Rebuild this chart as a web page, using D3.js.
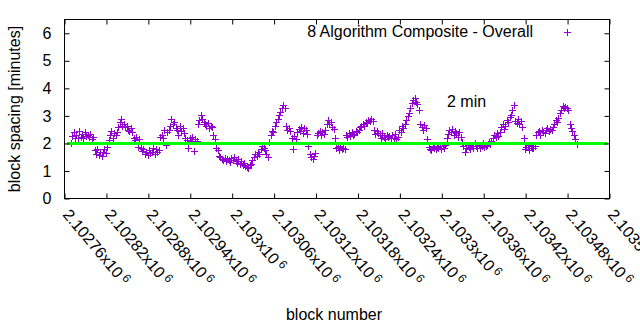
<!DOCTYPE html>
<html>
<head>
<meta charset="utf-8">
<script src="https://cdn.jsdelivr.net/npm/d3@7"></script>
<style>
  body { margin: 0; background: #fff; }
  text { font-family: "Liberation Sans", Arial, sans-serif; fill: #000; }
</style>
</head>
<body>
<script>
// block spacing (minutes), one sample every 2 blocks starting at firstBlock
var firstBlock = 2102769;
var blockStep = 2;
var spacing = [
  2.0, 2.28, 2.4, 2.2,
  2.3, 2.18, 2.45, 2.25, 2.35, 2.2, 2.4, 2.28, 2.32, 2.22,
  2.35, 2.15, 2.25,
  1.75, 1.62, 1.8, 1.58, 1.7, 1.55, 1.68, 1.78, 1.65,
  1.88, 2.12,
  2.3, 2.45, 2.2, 2.38, 2.3, 2.42,
  2.6, 2.78, 2.88, 2.65, 2.72, 2.58, 2.62,
  2.5, 2.45, 2.55, 2.42,
  2.2, 2.12, 2.22, 1.88, 2.15,
  1.85, 1.72, 1.8, 1.62, 1.68, 1.58, 1.75, 1.65, 1.7, 1.82, 1.62, 1.78, 1.7, 1.75,
  2.25, 2.32, 2.18, 2.5, 1.95, 2.4, 2.48,
  2.62, 2.88, 2.7, 2.78, 2.55,
  2.5, 2.32, 2.62, 2.45, 2.55, 2.38,
  2.2, 2.12, 1.82, 2.18, 2.1, 2.22, 1.72, 2.15, 2.08,
  2.72, 2.85, 3.02, 2.9, 2.78,
  2.7, 2.62, 2.75, 2.55, 2.65, 2.58, 2.3,
  2.15, 1.85, 1.75, 1.55,
  1.5, 1.42, 1.38, 1.48, 1.35, 1.45, 1.4, 1.32, 1.46, 1.38, 1.5, 1.36,
  1.3, 1.42, 1.26, 1.35, 1.22, 1.3, 1.18, 1.14, 1.1, 1.2, 1.25,
  1.38, 1.52, 1.6, 1.55, 1.68, 1.62,
  1.8, 1.9, 1.85, 1.75, 1.6, 1.5,
  2.05, 2.3, 2.45, 2.4, 2.62, 2.78,
  2.9, 3.05, 3.15, 3.28, 3.38, 3.3,
  2.62, 2.5, 2.55, 2.45,
  2.2, 1.8, 2.28, 2.15,
  2.4, 2.52, 2.45, 2.6, 2.38, 2.55, 2.48, 2.35,
  1.9, 1.62, 1.5, 1.42, 1.55, 1.65,
  2.3, 2.38, 2.45, 2.32, 2.42, 2.35, 2.5,
  2.72, 2.85, 2.7, 2.78, 2.6, 2.52, 2.2,
  1.82, 1.88, 1.75, 1.9, 1.78, 1.85, 1.8,
  2.3, 2.22, 2.38, 2.28, 2.4, 2.32, 2.35, 2.45, 2.4,
  2.5, 2.58, 2.62, 2.7, 2.65, 2.78, 2.75, 2.85, 2.8, 2.9, 2.82,
  2.5, 2.35, 2.45, 2.38,
  2.3, 2.2, 2.38, 2.25, 2.15, 2.32, 2.22, 2.28, 2.18, 2.3, 2.2, 2.35, 2.15, 2.25,
  2.5, 2.42, 2.62, 2.55, 2.7,
  2.85, 2.98, 3.12, 3.3, 3.45, 3.58, 3.65, 3.5, 3.42,
  3.2, 2.72, 2.6, 2.5, 2.68, 2.55,
  2.15, 1.88, 1.8, 1.75, 1.92, 1.82, 1.78, 1.88, 1.85, 1.92, 1.8, 1.9, 1.85, 1.95,
  2.2, 2.35, 2.48, 2.42, 2.52, 2.3, 2.45, 2.38, 2.25, 2.4, 2.22,
  2.05, 1.92, 1.68, 1.85, 1.95, 1.88, 1.8, 1.92, 1.85, 2.0, 1.9, 1.82, 1.95, 1.85, 1.9, 2.02, 1.88, 1.9,
  1.95, 2.05, 1.98, 2.1,
  2.2, 2.3, 2.25, 2.38, 2.28, 2.42,
  2.6, 2.72, 2.52, 2.65, 2.85, 2.78, 2.95, 3.05,
  3.22, 3.4,
  2.8, 2.75, 2.88, 2.7, 2.82, 2.6,
  2.2, 1.8, 1.88, 1.95, 1.75, 1.9, 1.82, 1.85, 1.92,
  2.3, 2.4, 2.45, 2.32, 2.5, 2.42, 2.38, 2.48, 2.55, 2.45, 2.52, 2.48, 2.6,
  2.7, 2.85, 2.78, 2.92,
  3.1, 3.22, 3.35, 3.28, 3.32, 3.3, 3.2,
  2.7, 2.55, 2.45, 2.3,
  2.15, 1.98
];
var targetMinutes = 2;

var yTicks = [0, 1, 2, 3, 4, 5, 6];
var xTicks = [2102760, 2102820, 2102880, 2102940, 2103000, 2103060, 2103120,
              2103180, 2103240, 2103300, 2103360, 2103420, 2103480, 2103540];
var xTickLabels = ["2.10276", "2.10282", "2.10288", "2.10294", "2.103", "2.10306", "2.10312",
                   "2.10318", "2.10324", "2.1033", "2.10336", "2.10342", "2.10348", "2.10354"];

var seriesName = "8 Algorithm Composite - Overall";

var points = spacing.map(function(v, i) { return {block: firstBlock + i * blockStep, v: v}; });

var plotLeft = 64.5, plotRight = 609.5, plotTop = 19.5, plotBottom = 198.5;
var fontSize = 16;

var x = d3.scaleLinear().domain([xTicks[0], xTicks[xTicks.length - 1]]).range([plotLeft, plotRight]);
var y = d3.scaleLinear().domain([0, 6.5]).range([plotBottom, plotTop]);

var svg = d3.select("body").append("svg")
  .attr("width", 640).attr("height", 330);

var plus = "M-3.5,0H3.5M0,-3.5V3.5";

// points
svg.append("g").selectAll("path").data(points).enter()
  .append("path")
  .attr("d", plus)
  .attr("transform", function(d) {
    return "translate(" + (Math.round(x(d.block)) + 0.5) + "," + (Math.round(y(d.v)) + 0.5) + ")";
  })
  .attr("fill", "none")
  .attr("stroke", "#9400d3")
  .attr("stroke-width", 1);

// 2 minute target line
svg.append("line")
  .attr("x1", plotLeft + 2.5).attr("x2", plotRight - 2)
  .attr("y1", Math.round(y(targetMinutes)) + 0.5).attr("y2", Math.round(y(targetMinutes)) + 0.5)
  .attr("stroke", "#00ff00")
  .attr("stroke-width", 3);

// y axis with mirrored ticks
var yAxis = svg.append("g")
  .attr("transform", "translate(" + plotLeft + ",0)")
  .call(d3.axisLeft(y).tickValues(yTicks).tickFormat(d3.format("d"))
    .tickSizeInner(-5).tickSizeOuter(0).tickPadding(13));
yAxis.select(".domain").remove();
yAxis.selectAll("text").attr("font-size", fontSize).attr("font-family", null);

var yAxisR = svg.append("g")
  .attr("transform", "translate(" + plotRight + ",0)")
  .call(d3.axisRight(y).tickValues(yTicks).tickSizeInner(-5).tickSizeOuter(0).tickFormat(""));
yAxisR.select(".domain").remove();

// x axis, ticks inward on bottom and top
var xAxis = svg.append("g")
  .attr("transform", "translate(0," + plotBottom + ")")
  .call(d3.axisBottom(x).tickValues(xTicks).tickSizeInner(-5).tickSizeOuter(0).tickFormat(""));
xAxis.select(".domain").remove();

var xAxisT = svg.append("g")
  .attr("transform", "translate(0," + plotTop + ")")
  .call(d3.axisTop(x).tickValues(xTicks).tickSizeInner(-5).tickSizeOuter(0).tickFormat(""));
xAxisT.select(".domain").remove();

svg.selectAll(".tick line").attr("stroke", "#000");

// rotated x tick labels
var xl = svg.append("g").selectAll("text").data(xTicks).enter()
  .append("text")
  .attr("font-size", fontSize)
  .attr("transform", function(d) {
    return "translate(" + (x(d) - 2.5) + ",215) rotate(50)";
  });
xl.append("tspan").text(function(d, i) { return xTickLabels[i] + "x10"; });
xl.append("tspan").attr("font-size", 12).attr("dx", 3).attr("dy", -5).text("6");

// border
svg.append("rect")
  .attr("x", plotLeft).attr("y", plotTop)
  .attr("width", plotRight - plotLeft).attr("height", plotBottom - plotTop)
  .attr("fill", "none").attr("stroke", "#000").attr("stroke-width", 1);

// legend
svg.append("text")
  .attr("x", 533).attr("y", 37)
  .attr("text-anchor", "end")
  .attr("font-size", fontSize)
  .text(seriesName);
svg.append("path")
  .attr("d", plus)
  .attr("transform", "translate(567.5,32.5)")
  .attr("fill", "none")
  .attr("stroke", "#9400d3");

svg.append("text")
  .attr("x", 447).attr("y", 107)
  .attr("font-size", fontSize)
  .text("2 min");

// axis titles
svg.append("text")
  .attr("x", 334).attr("y", 320)
  .attr("text-anchor", "middle")
  .attr("font-size", fontSize)
  .text("block number");

svg.append("text")
  .attr("transform", "translate(20,109) rotate(-90)")
  .attr("text-anchor", "middle")
  .attr("font-size", fontSize)
  .text("block spacing [minutes]");
</script>
</body>
</html>
